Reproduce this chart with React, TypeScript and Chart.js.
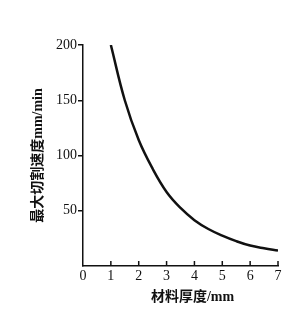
import React, { useEffect, useRef } from "react";
import { Chart, registerables } from "chart.js";

Chart.register(...registerables);

const thickness = [1, 1.5, 2, 2.5, 3, 3.5, 4, 4.5, 5, 5.5, 6, 6.5, 7];
const speed = [200, 150, 114, 88, 67, 52.5, 41.5, 33.5, 27.5, 22.5, 18.5, 16, 14];
const xTicks = [0, 1, 2, 3, 4, 5, 6, 7];
const yTicks = [50, 100, 150, 200];
const xTitle = "材料厚度/mm";
const yTitle = "最大切割速度mm/min";

const axisTweaks = {
  id: "axisTweaks",
  afterLayout(chart: any) {
    const xs = chart.scales.x;
    if (xs && !xs.__shifted) {
      const orig = xs.drawTitle.bind(xs);
      xs.drawTitle = (...args: any[]) => {
        const ctx = chart.ctx;
        ctx.save();
        ctx.translate(12, 0);
        orig(...args);
        ctx.restore();
      };
      xs.__shifted = true;
    }
  },
  afterDraw(chart: any) {
    const { ctx, scales } = chart;
    const xs = scales.x;
    ctx.save();
    ctx.strokeStyle = "#111";
    ctx.lineWidth = 1.5;
    for (const v of xTicks) {
      if (v === 0) continue;
      const px = xs.getPixelForValue(v);
      ctx.beginPath();
      ctx.moveTo(px, xs.top);
      ctx.lineTo(px, xs.top - 5);
      ctx.stroke();
    }
    ctx.restore();
  },
};

export default function App() {
  const ref = useRef<HTMLCanvasElement>(null);
  useEffect(() => {
    if (!ref.current) return;
    const tickFont = { family: "'Liberation Serif', serif", size: 14, weight: "normal" as const };
    const titleFont = { family: "'Liberation Serif', 'Noto Sans CJK SC', serif", size: 14, weight: "bold" as const };
    const chart = new Chart(ref.current, {
      type: "line",
      data: {
        datasets: [
          {
            data: thickness.map((x, i) => ({ x, y: speed[i] })),
            borderColor: "#111",
            borderWidth: 2.5,
            pointRadius: 0,
            tension: 0.4,
            fill: false,
          },
        ],
      },
      options: {
        animation: false,
        responsive: false,
        maintainAspectRatio: false,
        layout: { padding: { left: 30, right: 12, top: 45, bottom: 5 } },
        plugins: { legend: { display: false }, tooltip: { enabled: false } },
        scales: {
          x: {
            type: "linear",
            min: 0,
            max: 7,
            afterFit: (s: any) => { s.height = 40; },
            afterBuildTicks: (s: any) => { s.ticks = xTicks.map((v) => ({ value: v })); },
            border: { color: "#111", width: 1.5 },
            grid: { display: true, drawOnChartArea: false, drawTicks: false },
            ticks: { color: "#111", font: tickFont, padding: 2, maxRotation: 0 },
            title: { display: true, text: xTitle, color: "#111", font: titleFont, padding: 0 },
          },
          y: {
            type: "linear",
            min: 0,
            max: 200,
            afterFit: (s: any) => { s.width = 53; },
            afterBuildTicks: (s: any) => { s.ticks = yTicks.map((v) => ({ value: v })); },
            border: { color: "#111", width: 1.5 },
            grid: { display: true, drawOnChartArea: false, drawTicks: true, tickLength: 5, color: "#111", lineWidth: 1.5 },
            ticks: { color: "#111", font: tickFont, padding: 1 },
            title: { display: true, text: yTitle, color: "#111", font: titleFont, padding: 0 },
          },
        },
      },
      plugins: [axisTweaks],
    });
    return () => chart.destroy();
  }, []);
  return (
    <div style={{ position: "absolute", left: 0, top: 0, width: 290, height: 311, background: "#fff" }}>
      <canvas ref={ref} width={290} height={311} style={{ width: 290, height: 311 }} />
    </div>
  );
}
